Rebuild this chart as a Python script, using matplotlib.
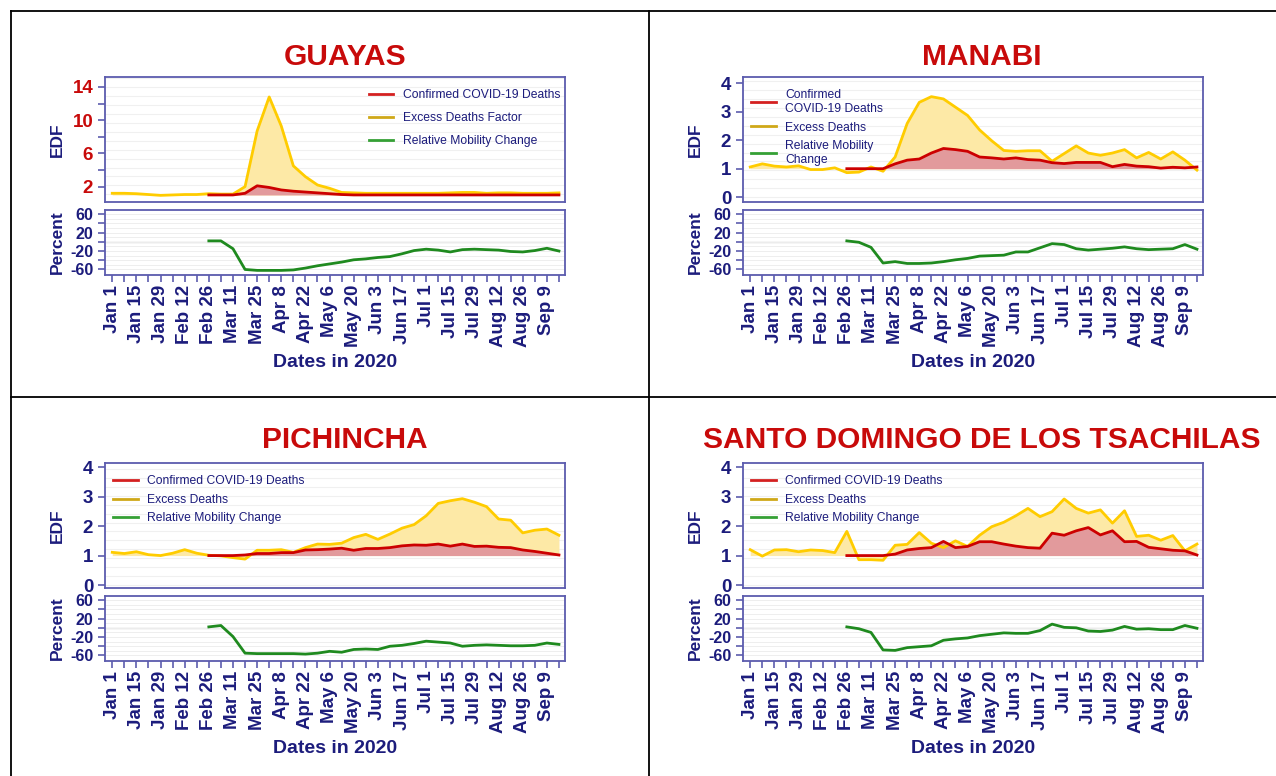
import numpy as np
import matplotlib
matplotlib.use('Agg')
import matplotlib.pyplot as plt
from matplotlib.lines import Line2D

plt.rcParams['font.family'] = ['Liberation Sans', 'DejaVu Sans']

# weekly points, Jan 1 .. Sep 16 2020
weeks = np.arange(38)
tick_labels = ['Jan 1', 'Jan 15', 'Jan 29', 'Feb 12', 'Feb 26', 'Mar 11', 'Mar 25',
               'Apr 8', 'Apr 22', 'May 6', 'May 20', 'Jun 3', 'Jun 17', 'Jul 1',
               'Jul 15', 'Jul 29', 'Aug 12', 'Aug 26', 'Sep 9']

# confirmed / mobility start on Feb 26 (week 8)
start = 8

guayas_excess = [1.2, 1.2, 1.15, 1.05, 0.95, 1.0, 1.05, 1.05, 1.15, 1.1, 1.1, 2.0, 8.7, 12.8,
                 9.3, 4.5, 3.2, 2.2, 1.8, 1.3, 1.25, 1.2, 1.2, 1.2, 1.2, 1.2, 1.2, 1.2, 1.25,
                 1.3, 1.3, 1.2, 1.25, 1.25, 1.2, 1.2, 1.2, 1.25]
guayas_confirmed = [1.0, 1.0, 1.0, 1.2, 2.1, 1.9, 1.6, 1.45, 1.35, 1.25, 1.15, 1.05, 1.0, 1.0,
                    1.0, 1.0, 1.0, 1.0, 1.0, 1.0, 1.0, 1.0, 1.0, 1.0, 1.0, 1.0, 1.0, 1.0,
                    1.0, 1.0]
guayas_mobility = [2, 2, -15, -60, -62, -62, -62, -61, -57, -52, -48, -44, -39, -37, -34, -32,
                   -26, -19, -16, -18, -22, -17, -16, -17, -18, -21, -22, -19, -14, -20]

manabi_excess = [1.06, 1.17, 1.09, 1.06, 1.1, 0.97, 0.97, 1.03, 0.86, 0.88, 1.06, 0.91, 1.41,
                 2.59, 3.33, 3.53, 3.45, 3.16, 2.87, 2.36, 1.98, 1.64, 1.61, 1.63, 1.63, 1.26,
                 1.53, 1.8, 1.55, 1.47, 1.55, 1.67, 1.38, 1.57, 1.34, 1.59, 1.3, 0.95]
manabi_confirmed = [1.0, 1.0, 1.0, 1.0, 1.17, 1.3, 1.34, 1.55, 1.71, 1.67, 1.61, 1.41, 1.38,
                    1.34, 1.38, 1.32, 1.3, 1.21, 1.18, 1.22, 1.22, 1.22, 1.07, 1.15, 1.09,
                    1.07, 1.02, 1.05, 1.03, 1.06]
manabi_mobility = [2, -1, -12, -46, -43, -47, -47, -46, -43, -39, -36, -31, -30, -29, -22, -22,
                   -13, -4, -6, -15, -18, -16, -14, -11, -15, -17, -16, -15, -6, -16]

pichincha_excess = [1.11, 1.07, 1.13, 1.03, 1.0, 1.08, 1.2, 1.08, 1.01, 0.99, 0.93, 0.88, 1.18,
                    1.18, 1.2, 1.11, 1.27, 1.39, 1.38, 1.42, 1.61, 1.72, 1.55, 1.73, 1.93, 2.05,
                    2.35, 2.77, 2.86, 2.93, 2.81, 2.66, 2.24, 2.2, 1.77, 1.86, 1.9, 1.69]
pichincha_confirmed = [1.0, 1.0, 1.0, 1.02, 1.07, 1.07, 1.1, 1.1, 1.19, 1.2, 1.22, 1.25, 1.18,
                       1.24, 1.24, 1.27, 1.33, 1.36, 1.35, 1.39, 1.32, 1.39, 1.31, 1.32, 1.28,
                       1.27, 1.19, 1.14, 1.08, 1.02]
pichincha_mobility = [2, 5, -19, -55, -56, -56, -56, -56, -57, -55, -51, -53, -47, -46, -47,
                      -40, -38, -34, -29, -31, -33, -40, -38, -37, -38, -39, -39, -38, -33, -36]

santo_excess = [1.2, 0.98, 1.19, 1.2, 1.13, 1.19, 1.17, 1.1, 1.82, 0.86, 0.86, 0.84, 1.35, 1.38,
                1.78, 1.42, 1.27, 1.5, 1.31, 1.69, 1.98, 2.13, 2.35, 2.6, 2.32, 2.49, 2.92,
                2.6, 2.44, 2.55, 2.1, 2.52, 1.65, 1.69, 1.52, 1.68, 1.16, 1.39]
santo_confirmed = [1.0, 1.0, 1.0, 1.0, 1.05, 1.19, 1.24, 1.27, 1.48, 1.27, 1.31, 1.47, 1.47,
                   1.39, 1.32, 1.27, 1.25, 1.76, 1.69, 1.84, 1.95, 1.7, 1.84, 1.47, 1.48, 1.28,
                   1.23, 1.18, 1.16, 1.02]
santo_mobility = [2, -2, -10, -48, -49, -43, -41, -39, -27, -24, -22, -17, -14, -11, -12, -12,
                  -6, 8, 1, 0, -7, -8, -5, 3, -3, -2, -4, -4, 5, -1]

NAVY = '#1c1c7c'
SPINE = '#5c5cae'
TITLE_RED = '#c80a0a'
YEL = '#ffcc00'
YEL_FILL = '#fde9a6'
RED = '#cc0000'
RED_FILL = '#e29a9c'
GREEN = '#1f8a1f'

fig = plt.figure(figsize=(12.76, 7.76), dpi=100)

# table lines
for x in [11 / 1276, 649 / 1276]:
    fig.add_artist(Line2D([x, x], [0, 1 - 11 / 776], color='black', lw=1.3))
for y in [1 - 11 / 776, 1 - 397 / 776]:
    fig.add_artist(Line2D([11 / 1276, 1], [y, y], color='black', lw=1.3))


def style_axes(ax):
    for s in ax.spines.values():
        s.set_color(SPINE)
        s.set_linewidth(1.3)
    ax.tick_params(axis='y', colors=SPINE, labelcolor=NAVY, width=1.2, length=5, which='both')
    ax.set_xlim(-0.6, 37.5)


def panel(left, top_px, name, excess, confirmed, mobility, edf_ticks, ylim, tick_color,
          labels, loc, legend_anchor, spacing, title_xy):
    W, H = 1276, 776
    ax1 = fig.add_axes([left / W, 1 - (top_px + 125) / H, 460 / W, 125 / H])
    ax2 = fig.add_axes([left / W, 1 - (top_px + 198) / H, 460 / W, 65 / H])

    xs = weeks[start:]
    ax1.fill_between(weeks, 1, excess, color=YEL_FILL, lw=0)
    ax1.fill_between(xs, 1, confirmed, color=RED_FILL, lw=0)
    ax1.plot(weeks, excess, color=YEL, lw=2)
    ax1.plot(xs, confirmed, color=RED, lw=2)
    style_axes(ax1)
    ax1.set_ylim(*ylim)
    ax1.set_yticks(edf_ticks)
    if edf_ticks[0] == 2:
        ax1.set_yticks([4, 8, 12], minor=True)
    ax1.set_yticklabels([str(t) for t in edf_ticks], fontsize=13.5, fontweight='bold',
                        color=tick_color)
    ax1.set_xticks([])
    for g in np.arange(0, ylim[1], (ylim[1] - ylim[0]) / 14):
        ax1.axhline(g, color='#f0f0f0', lw=0.8, zorder=0)
    ax1.set_ylabel('EDF', fontsize=12.5, fontweight='bold', color=NAVY)
    ax1.yaxis.set_label_coords(-0.087, 0.5)

    handles = [Line2D([], [], color='#d42020', lw=2),
               Line2D([], [], color='#cfa818', lw=2),
               Line2D([], [], color='#35a035', lw=2)]
    leg = ax1.legend(handles, labels, loc=loc, bbox_to_anchor=legend_anchor, frameon=False,
                     fontsize=8.7, handlelength=2.0, labelspacing=spacing, borderpad=0.2)
    for t in leg.get_texts():
        t.set_color(NAVY)

    ax2.plot(xs, mobility, color=GREEN, lw=2)
    ax2.axhline(0, color='#b0b0b0', lw=0.9, zorder=0)
    for g in np.arange(-70, 70, 10):
        ax2.axhline(g, color='#eeeeee', lw=0.7, zorder=0)
    style_axes(ax2)
    ax2.set_ylim(-72, 69)
    ax2.set_yticks([60, 20, -20, -60])
    ax2.set_yticks([40, 0, -40], minor=True)
    ax2.set_yticklabels(['60', '20', '-20', '-60'], fontsize=11.5, fontweight='bold')
    ax2.set_ylabel('Percent', fontsize=12.5, fontweight='bold', color=NAVY)
    ax2.yaxis.set_label_coords(-0.087, 0.5)
    ax2.set_xticks(weeks, minor=True)
    ax2.set_xticks(weeks[::2][:len(tick_labels)])
    ax2.set_xticklabels(tick_labels, rotation=90, fontsize=13.5, fontweight='bold', color=NAVY)
    ax2.tick_params(axis='x', which='both', colors=SPINE, labelcolor=NAVY, length=5,
                    width=1.2, pad=2)
    ax2.set_xlabel('Dates in 2020', fontsize=14, fontweight='bold', color=NAVY, labelpad=5)

    fig.text(title_xy[0] / W, 1 - title_xy[1] / H, name, ha='center', va='center',
             fontsize=21.5, fontweight='bold', color=TITLE_RED)


std_labels = ['Confirmed COVID-19 Deaths', 'Excess Deaths', 'Relative Mobility Change']

panel(105, 77, 'GUAYAS', guayas_excess, guayas_confirmed, guayas_mobility,
      [2, 6, 10, 14], (0.15, 15.2), TITLE_RED,
      ['Confirmed COVID-19 Deaths', 'Excess Deaths Factor', 'Relative Mobility Change'],
      'upper left', (0.555, 0.97), 0.9, (345, 57))
panel(743, 77, 'MANABI', manabi_excess, manabi_confirmed, manabi_mobility,
      [0, 1, 2, 3, 4], (-0.17, 4.22), NAVY,
      ['Confirmed\nCOVID-19 Deaths', 'Excess Deaths', 'Relative Mobility\nChange'],
      'upper left', (0.0, 0.97), 0.55, (982, 57))
panel(105, 463, 'PICHINCHA', pichincha_excess, pichincha_confirmed, pichincha_mobility,
      [0, 1, 2, 3, 4], (-0.1, 4.14), NAVY, std_labels,
      'upper left', (0.0, 0.97), 0.55, (345, 440))
panel(743, 463, 'SANTO DOMINGO DE LOS TSACHILAS', santo_excess, santo_confirmed,
      santo_mobility, [0, 1, 2, 3, 4], (-0.1, 4.14), NAVY, std_labels,
      'upper left', (0.0, 0.97), 0.55, (982, 440))

fig.savefig('out.png', dpi=100)
